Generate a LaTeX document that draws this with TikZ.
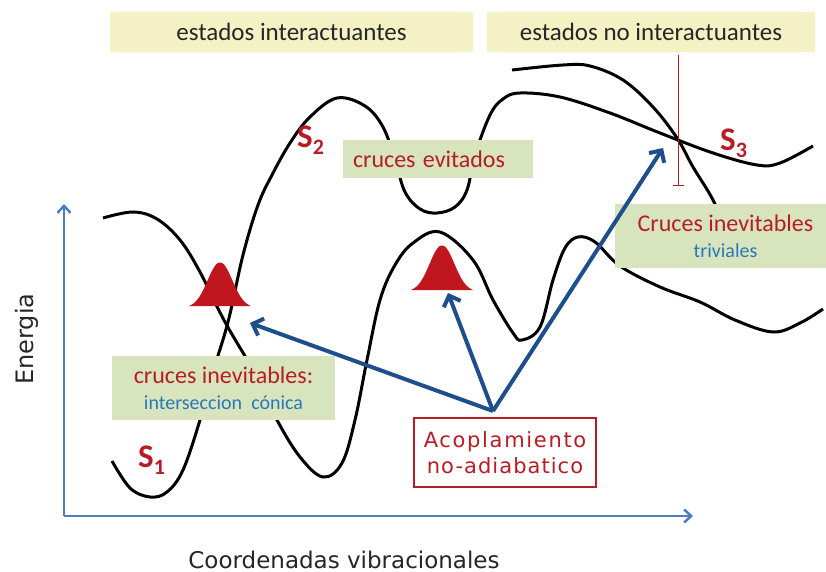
\documentclass[tikz,border=0pt]{standalone}
\usepackage{fontspec}
\setmainfont{Carlito}
\newfontfamily\labfont{DejaVu Sans}
\newfontfamily\acfontA[LetterSpace=8]{DejaVu Sans}
\newfontfamily\acfontB[LetterSpace=5]{DejaVu Sans}
\usetikzlibrary{arrows.meta}
\definecolor{ybox}{HTML}{F4F2C4}
\definecolor{gbox}{HTML}{D7E4BD}
\definecolor{redtxt}{HTML}{B81D25}
\definecolor{bluetxt}{HTML}{2A78B8}
\definecolor{arrblue}{HTML}{1F4E8C}
\definecolor{axblue}{HTML}{4A7EBF}
\definecolor{pkt}{HTML}{C0161E}
\tikzset{
  curve/.style={line width=3pt, black, smooth, tension=0.6},
  ybx/.style={fill=ybox, draw=none, inner sep=0pt, text=black!85, font=\fontsize{25}{25}\selectfont},
  gbx/.style={fill=gbox, draw=none, inner sep=0pt, align=center, font=\fontsize{22}{25.5}\selectfont},
  coup/.style={line width=4pt, arrblue, -{Straight Barb[length=9pt,width=18pt,line width=4pt]}},
  axis/.style={line width=2.8pt, axblue, -{Straight Barb[length=7pt,width=13pt,line width=2.5pt]}},
  slab/.style={text=redtxt, inner sep=0pt, anchor=base west, font=\fontsize{33}{33}\selectfont\bfseries},
  packet/.style={fill=pkt, draw=pkt, line width=1pt}
}
\newcommand{\redf}{\fontsize{24}{25.5}\selectfont\color{redtxt}}
\newcommand{\bluef}{\fontsize{20}{25.5}\selectfont\color{bluetxt}}
\newcommand{\subf}[1]{\raisebox{-7pt}{\fontsize{22}{22}\selectfont #1}}
\begin{document}
\begin{tikzpicture}[x=1pt,y=-1pt]
\useasboundingbox (0,0) rectangle (826,572);
\fill[white] (0,0) rectangle (826,572);
% potential curves
\draw[curve] plot coordinates {(103,218) (133,212) (157,219) (180,240) (200,272) (225,322) (257,377) (277,420) (300,457) (323,477) (342,463) (355,420) (367,360) (380,300) (395,265) (413,243) (440,232) (473,260) (493,300) (513,333) (522,340) (540,327) (553,280) (565,248) (578,237) (595,242) (620,266) (660,287) (700,302) (735,320) (773,332) (800,323) (823,309)};
\draw[curve] plot coordinates {(112,461) (130,488) (150,497) (167,492) (183,470) (200,420) (212,375) (228,322) (243,255) (258,205) (272,175) (290,143) (310,117) (337,98) (365,106) (383,127) (395,160) (405,192) (420,209) (437,213) (455,207) (467,190) (475,155) (490,115) (503,99) (520,93) (560,97) (610,113) (660,133) (713,153) (757,165) (780,163) (813,146)};
\draw[curve] plot coordinates {(512,70) (563,65) (590,66) (623,80) (653,107) (677,138) (693,167) (713,200) (728,235)};
% axes
\coordinate (orig) at (64,516);
\coordinate (ytop) at (64,204);
\coordinate (xend) at (693,516);
\draw[axis] (orig) -- (ytop);
\draw[axis] (orig) -- (xend);
\node[font=\labfont\fontsize{24}{24}\selectfont, rotate=90, text=black!85] (ener) at (27,339) {Energia};
\node[font=\labfont\fontsize{23}{23}\selectfont, text=black!85, anchor=base] (coord) at (344,568) {Coordenadas vibracionales};
% header boxes
\node[ybx, minimum width=363pt, minimum height=40pt] (hint) at (291.5,32) {estados interactuantes};
\node[ybx, minimum width=328pt, minimum height=40pt] (hnon) at (651,32) {estados no interactuantes};
% green boxes
\node[gbx, minimum height=38pt, text width=170pt, inner xsep=10pt, align=left] (evit) at (438,159) {\redf cruces evitados};
\node[gbx, minimum width=223pt, minimum height=64pt] (ci) at (223.5,388) {\redf cruces inevitables:\\\bluef interseccion\ \ cónica};
\node[gbx, minimum width=211pt, minimum height=64pt] (ct) at (720.5,236) {\hspace*{10pt}\redf Cruces inevitables\\\hspace*{10pt}\bluef triviales};
% state labels
\node[slab] (s1) at (138,467) {S\subf{1}};
\node[slab] (s2) at (297,148) {S\subf{2}};
\node[slab] (s3) at (720,150) {S\subf{3}};
% wave packets
\fill[packet] plot[domain=191:249, samples=80] (\x,{308-45*exp(-((\x-220)^2)/288)}) -- cycle;
\fill[packet] plot[domain=413:471, samples=80] (\x,{292-46*exp(-((\x-442)^2)/288)}) -- cycle;
% trivial crossing marker
\draw[pkt, line width=1pt] (678,55) -- (678,185);
\draw[pkt, line width=1pt] (673,185) -- (684,185);
% coupling box
\node[draw=redtxt, line width=2pt, fill=white, minimum width=182pt, minimum height=69pt, align=center, inner sep=0pt, text=redtxt, font=\fontsize{21}{26}\selectfont] (acop) at (505,452.5) {\acfontA Acoplamiento\\\acfontB no-adiabatico};
% coupling arrows
\coordinate (src) at (493,411);
\coordinate (t1) at (250,323);
\coordinate (t2) at (448,293);
\coordinate (t3) at (663,148);
\draw[coup] (src) -- (t1);
\draw[coup] (src) -- (t2);
\draw[coup] (src) -- (t3);
\end{tikzpicture}
\end{document}
